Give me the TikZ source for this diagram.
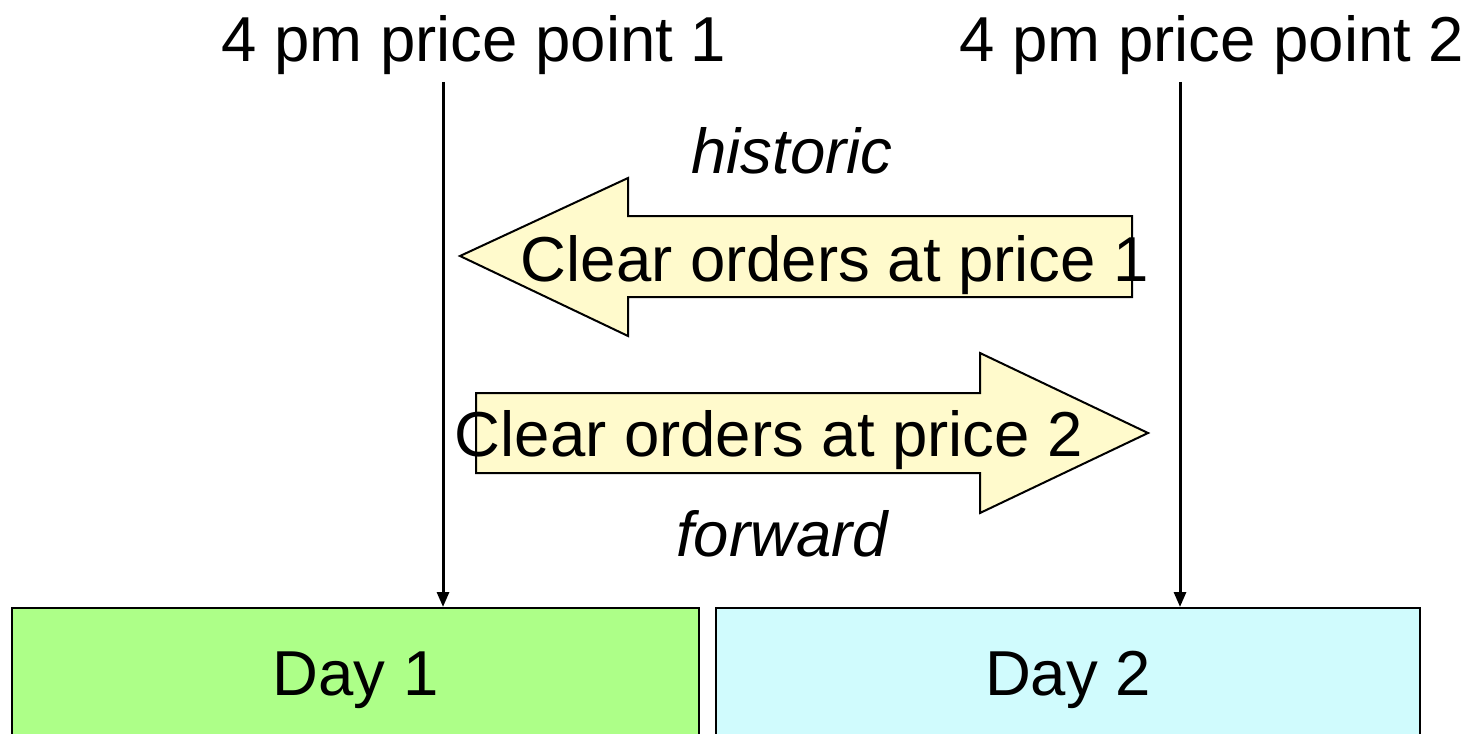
\documentclass[tikz,border=0pt]{standalone}
\usepackage{fontspec}
\setmainfont{Liberation Sans}
\usetikzlibrary{arrows.meta}
\definecolor{dayone}{HTML}{ADFF88}
\definecolor{daytwo}{HTML}{D0FBFD}
\definecolor{arrfill}{HTML}{FFFACC}
\begin{document}
\begin{tikzpicture}[x=1bp,y=-1bp,
  every node/.style={font=\fontsize{63.5bp}{76bp}\selectfont, inner sep=0pt},
  title/.style={anchor=base},
  daybox/.style={draw=black, line width=2bp, minimum width=#1, minimum height=144bp},
  bigarrow/.style={draw=black, line width=2bp, fill=arrfill, line join=miter},
  vline/.style={line width=3bp, -{Triangle[length=15bp,width=12bp]}},
  lbl/.style={font=\fontsize{63.5bp}{76bp}\selectfont\itshape}
]
\useasboundingbox (0,0) rectangle (1473,734);
% titles
\node[title] (t1) at (474,62) {4 pm price point 1};
\node[title] (t2) at (1212,62) {4 pm price point 2};
% day boxes
\node[daybox=687bp, fill=dayone] (d1) at (355.5,680) {Day 1};
\node[daybox=704bp, fill=daytwo] (d2) at (1068,680) {Day 2};
% vertical lines
\coordinate (p1) at (443,82);
\coordinate (p2) at (1180,82);
\draw[vline] (p1) -- (p1 |- d1.north);
\draw[vline] (p2) -- (p2 |- d2.north);
% historic arrow (pointing left)
\draw[bigarrow] (460,256) -- (628,178) -- (628,216) -- (1132,216) -- (1132,297) -- (628,297) -- (628,336) -- cycle;
\node (a1) at (835,265) {Clear orders at price 1};
% forward arrow (pointing right)
\draw[bigarrow] (1148,433) -- (980,353) -- (980,393) -- (476,393) -- (476,473) -- (980,473) -- (980,513) -- cycle;
\node (a2) at (769,440) {Clear orders at price 2};
% labels
\node[lbl] (h) at (792,151) {historic};
\node[lbl] (f) at (782,534) {forward};
\end{tikzpicture}
\end{document}
